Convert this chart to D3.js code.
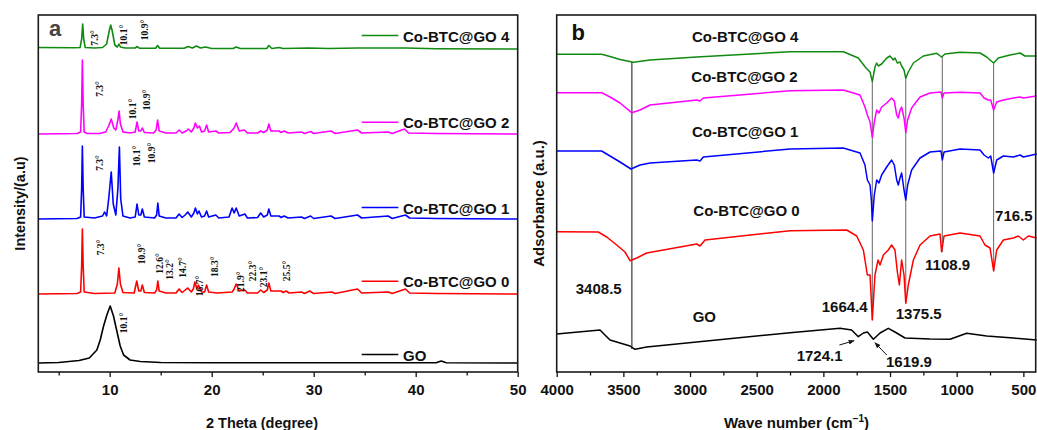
<!DOCTYPE html>
<html><head><meta charset="utf-8">
<script src="https://cdn.jsdelivr.net/npm/d3@7"></script>
<style>body{margin:0;background:#fff}svg{display:block}</style>
</head><body><svg id="c" width="1037" height="430"></svg>
<script>
// ================= Panel a: XRD (2θ in degrees, intensity in a.u. above each trace's baseline)
const xrdNames   = ["GO", "Co-BTC@GO 0", "Co-BTC@GO 1", "Co-BTC@GO 2", "Co-BTC@GO 4"];
const xrdOffsets = [9, 78, 153, 238, 323];
const xrdGO = [[3,0],[5,0.5],[7,2.5],[8,5],[8.74,13],[9.07,23],[9.4,37],[9.72,48],[10.05,57],[10.37,47],[10.7,32],[11.03,17],[11.36,8],[12,3],[13,1.5],[15,0.5],[20,0.3],[30,0.3],[42,0.3],[42.5,2],[43,0.3],[50,0]];
const xrdCo0 = [[3,0],[6.8,0.5],[7.15,2],[7.25,28],[7.32,65],[7.4,28],[7.5,2],[8.5,0.5],[10.5,1],[10.75,10],[10.9,26],[11.05,10],[11.3,1.5],[12.4,1],[12.65,13],[12.85,3],[13.05,3],[13.2,9],[13.4,1.5],[14.4,1],[14.6,4],[14.72,13],[14.85,3],[15.5,1],[16.5,1],[16.8,5],[17.1,1.5],[17.4,4],[17.65,6],[18,2],[18.2,5],[18.35,12],[18.55,5],[18.7,9],[19,2],[19.3,2],[19.5,9],[19.7,2],[20.5,1],[22,2],[22.2,5],[22.4,10],[22.7,3],[23.25,4],[23.5,1],[24.5,1],[24.8,4],[25.1,1.5],[25.45,4],[25.6,11],[25.8,3],[26.8,3],[27,1.5],[27.3,3],[27.6,1],[28.8,2],[29.1,0.5],[29.6,3],[30,0.5],[31.8,2],[32.1,0.5],[34.3,5],[34.7,1],[37.3,2],[37.7,0.5],[39,5],[39.4,1],[42,0.5],[50,0]];
const xrdCo1 = [[3,0],[6.8,0.5],[7.15,2],[7.25,30],[7.32,73],[7.4,30],[7.5,2],[8.5,1],[9.3,3],[9.5,7],[9.7,3],[9.9,20],[10.15,47],[10.35,15],[10.6,4],[10.8,30],[10.95,72],[11.08,20],[11.3,3],[12,1],[12.5,2],[12.68,15],[12.85,4],[13.05,4],[13.2,10],[13.4,2],[14.4,1],[14.6,4],[14.72,16],[14.85,3],[15.5,1],[16.5,1],[16.8,5],[17.1,1.5],[17.4,4],[17.65,7],[18,2],[18.25,6],[18.4,11],[18.6,5],[18.75,8],[19,2],[19.3,3],[19.5,8],[19.7,2],[20.4,4],[20.7,1],[21.7,2],[22,11],[22.2,6],[22.4,11],[22.7,3],[23.25,5],[23.5,1],[24.5,1.5],[24.8,6],[25.1,2],[25.45,4],[25.6,10],[25.8,3],[26.6,3],[26.8,1.5],[27.1,3],[27.5,1],[28.8,2],[29.1,0.5],[29.7,3],[30,0.5],[31.7,3],[32.1,0.5],[34.3,4],[34.7,1],[37.3,3],[37.7,0.5],[39,4],[39.4,1],[42,0.5],[50,0]];
const xrdCo2 = [[3,0],[6.8,0.5],[7.15,2],[7.25,30],[7.32,74],[7.4,30],[7.5,2],[7.8,0.5],[9,0.5],[9.6,2],[9.9,8],[10.15,15],[10.4,6],[10.6,4],[10.8,14],[10.92,23],[11.05,10],[11.3,2],[12,1],[12.5,2],[12.68,12],[12.85,3],[13.05,3],[13.2,6],[13.4,1.5],[14.3,1],[14.55,4],[14.7,14],[14.85,3],[15.5,1],[16.5,1],[16.8,4],[17.1,1],[17.5,3],[17.7,5],[18,2],[18.25,6],[18.4,11],[18.6,6],[18.8,8],[19,2],[19.3,3],[19.5,9],[19.7,2],[20.4,3],[20.7,1],[21.8,1.5],[22.2,6],[22.4,11],[22.7,3],[23.2,4],[23.5,1],[24.5,1],[24.8,3],[25.1,1.5],[25.45,4],[25.6,10],[25.8,3],[26.6,3],[26.8,1.5],[27.1,3],[27.5,1],[28.8,2],[29.1,0.5],[29.7,2.5],[30,0.5],[31.7,3],[32.1,0.5],[34.3,4],[34.7,1],[37.3,2],[37.7,0.5],[38.9,5],[39.3,1],[42,0.5],[50,0]];
const xrdCo4 = [[3,1.5],[6.5,1.2],[7.1,1.5],[7.25,10],[7.35,25],[7.45,10],[7.6,1.5],[8.5,1],[9.3,1.5],[9.7,5],[9.95,18],[10.1,24],[10.25,18],[10.5,4],[10.75,2],[10.9,5],[11.05,2],[11.5,1],[12.5,1],[12.7,2.5],[12.9,0.8],[14.5,0.8],[14.7,3.5],[14.9,0.8],[17.3,0.8],[17.7,2.5],[18.1,1],[18.5,3],[18.9,1],[19.4,2],[20,0.5],[22.1,0.5],[22.4,2],[22.8,0.5],[25.4,0.5],[25.6,3.5],[25.9,0.5],[26.6,1.5],[27,0.5],[29.5,1],[31.5,0.5],[34.3,1],[39,1],[42,0.3],[50,0]];
const xrdData = [xrdGO, xrdCo0, xrdCo1, xrdCo2, xrdCo4];
const xrdTicks = [5,10,15,20,25,30,35,40,45,50];
const xrdTickLabels = [10,20,30,40,50];
// peak annotations: [2θ, a.u., text]
const xrdPeakLabels = [
  [8.58,334,"7.3°"],[11.36,337,"10.1°"],[13.49,342,"10.9°"],
  [9.07,283,"7.3°"],[12.28,263,"10.1°"],[13.66,272,"10.9°"],
  [9.07,209,"7.3°"],[12.68,216,"10.1°"],[14.15,219,"10.9°"],
  [9.17,124.5,"7.3°"],[13.17,118,"10.9°"],[14.97,108.5,"12.6°"],[15.95,102.5,"13.2°"],[17.2,104.5,"14.7°"],[18.9,86,"16.7°"],[20.37,105.3,"18.3°"],[22.9,90.3,"21.9°"],[24.08,101,"22.3°"],[25.12,95,"23.1°"],[27.36,101,"25.5°"],
  [11.43,49,"10.1°"]
];

// ================= Panel b: FTIR (wavenumber cm-1, adsorbance a.u.)
const ftirNames = ["GO", "Co-BTC@GO 0", "Co-BTC@GO 1", "Co-BTC@GO 2", "Co-BTC@GO 4"];
const ftirGO = [[4000,38],[3675,42],[3638,37],[3600,32],[3450,26],[3413,22.7],[3325,25],[2250,39.3],[1875,43.7],[1788,42],[1738,35.3],[1700,39],[1670,40],[1625,32.7],[1575,39],[1513,43.7],[1463,40],[1388,34],[1200,33],[1050,32.7],[925,38.7],[775,36],[575,34],[400,32]];
const ftirCo0 = [[4000,140.3],[3688,140],[3625,135],[3550,127],[3488,120],[3450,111.3],[3400,114],[3325,119],[3200,122],[2950,128],[2925,126],[2888,132],[2250,141.3],[1825,142],[1750,136],[1700,122],[1670,97],[1650,97],[1633,52],[1613,97],[1590,112],[1575,107],[1550,117],[1513,122],[1488,127],[1463,122],[1445,100],[1430,87],[1413,112],[1395,97],[1382,68.7],[1363,87],[1325,112],[1275,127],[1200,136],[1125,138],[1113,120.3],[1095,136],[975,139],[825,136],[788,127],[750,124],[723,101],[700,122],[650,132],[575,134],[538,136],[500,132],[463,136],[400,134]];
const ftirCo1 = [[4000,221],[3663,221],[3600,216],[3525,210],[3443,203],[3375,207],[3300,209],[2950,212],[2925,211],[2900,215],[2250,223],[1850,224],[1725,219],[1688,207],[1670,192],[1650,187],[1640,172],[1633,151],[1618,177],[1600,192],[1583,189],[1563,197],[1525,205],[1488,212],[1468,207],[1450,192],[1438,187],[1425,194],[1413,199],[1395,182],[1382,172],[1368,187],[1338,202],[1275,214],[1200,220],[1118,221],[1108,212],[1095,220],[975,223],[825,222],[795,217],[763,214],[745,216],[723,199],[700,212],[650,216],[575,215],[525,217],[500,215],[400,218]];
const ftirCo2 = [[4000,279.3],[3663,279.3],[3600,275],[3525,269],[3438,259.3],[3375,262],[3300,267],[2950,272],[2925,271],[2900,274],[2250,281.3],[1850,282],[1725,277],[1688,265],[1670,257],[1650,250],[1633,234.7],[1618,250],[1600,262],[1583,259],[1563,265],[1525,269],[1488,274],[1468,271],[1450,257],[1438,254],[1425,262],[1413,265],[1395,254],[1382,239.3],[1368,252],[1338,264],[1275,275],[1200,279],[1118,280],[1108,274],[1095,279],[975,279.7],[825,279],[795,274],[763,272],[745,272],[723,262],[700,270],[650,272],[575,274],[525,275],[500,274],[400,276]];
const ftirCo4 = [[4000,317.7],[3663,317.7],[3600,315.5],[3525,312.5],[3425,309.7],[3300,312],[2950,315],[2250,320.3],[1850,320.3],[1738,314],[1680,304],[1650,300],[1633,290.3],[1613,305],[1600,309],[1588,306],[1563,308],[1525,314],[1500,316],[1475,312],[1463,314],[1445,309],[1425,310],[1413,306],[1395,302],[1382,293.7],[1363,300],[1325,309],[1250,316],[1150,318.7],[1113,315],[1088,318],[975,319.7],[825,319],[775,315],[750,312],[723,309],[688,314],[600,317],[525,319],[488,316],[400,316]];
const ftirData = [ftirGO, ftirCo0, ftirCo1, ftirCo2, ftirCo4];
const ftirTicks = [4000,3750,3500,3250,3000,2750,2500,2250,2000,1750,1500,1250,1000,750,500];
const ftirTickLabels = [4000,3500,3000,2500,2000,1500,1000,500];
// marker lines: [wavenumber, top a.u., bottom a.u.]
const ftirMarkers = [[3436,310,23],[1633,290,52],[1382,294,69],[1108,315,120],[723,309,101]];
// band labels: [wavenumber at text start, a.u., text]
const ftirBandLabels = [[3857,83.7,"3408.5"],[2012,65.3,"1664.4"],[1457,58.7,"1375.5"],[1237,107.7,"1108.9"],[712,157,"716.5"],[2200,16.3,"1724.1"],[1530,10.3,"1619.9"]];
// arrows: [from wave, from a.u., to wave, to a.u.]
const ftirArrows = [[1880,27,1770,31.3],[1525,17,1613,29.3]];
// series label positions: [wavenumber, a.u.]
const ftirSeriesLabelPos = [[2980,56],[2975,162],[2985,240.3],[2990,296],[2985,336]];

// ================= drawing
const colors = ["#000000", "#ff0000", "#0000ff", "#ff00ff", "#118a11"];
const svg = d3.select("#c");
const SANS = "'Liberation Sans', Arial, sans-serif";
const SERIF = "'Liberation Serif', 'Times New Roman', serif";

// Panel a
const ax = d3.scaleLinear().domain([3, 50]).range([38.3, 517.7]);
const ay = d3.scaleLinear().domain([0, 357]).range([372, 15]);
const ga = svg.append("g");
const lineA = (off) => d3.line().x(d => ax(d[0])).y(d => ay(d[1] + off));
xrdData.forEach((s, i) => {
  ga.append("path").attr("d", lineA(xrdOffsets[i])(s)).attr("fill", "none")
    .attr("stroke", colors[i]).attr("stroke-width", 1.6).attr("stroke-linejoin", "round");
});
const axA = d3.axisBottom(ax).tickValues(xrdTicks).tickSize(5).tickPadding(7)
  .tickFormat(d => xrdTickLabels.includes(d) ? d : "");
const gax = ga.append("g").attr("transform", "translate(0,372)").call(axA);
gax.select(".domain").remove();
gax.selectAll(".tick line").attr("stroke", "#111").attr("stroke-width", 1.3)
  .attr("y2", d => xrdTickLabels.includes(d) ? 5 : 3.5);
gax.selectAll(".tick text").attr("font-family", SANS).attr("font-weight", "bold")
  .attr("font-size", 15).attr("fill", "#111");
ga.append("rect").attr("x", 38.3).attr("y", 15).attr("width", 517.7 - 38.3).attr("height", 357)
  .attr("fill", "none").attr("stroke", "#1a1a1a").attr("stroke-width", 1.6);
// peak labels
xrdPeakLabels.forEach(p => {
  ga.append("text").attr("transform", `translate(${ax(p[0])},${ay(p[1])}) rotate(-90)`)
    .attr("text-anchor", "middle").attr("dominant-baseline", "central")
    .attr("font-family", SERIF).attr("font-weight", "bold").attr("font-size", 9.5)
    .attr("fill", "#111").text(p[2]);
});
// legend labels (right side)
const legY = [355, 281.7, 208, 122.7, 36];
xrdNames.forEach((n, i) => {
  ga.append("line").attr("x1", 361.7).attr("x2", 398.3).attr("y1", legY[i] - 0.5).attr("y2", legY[i] - 0.5)
    .attr("stroke", colors[i]).attr("stroke-width", 1.6);
  ga.append("text").attr("x", 403).attr("y", legY[i]).attr("dominant-baseline", "central")
    .attr("font-family", SANS).attr("font-weight", "bold").attr("font-size", 15)
    .attr("fill", "#111").text(n);
});
ga.append("text").attr("x", 49).attr("y", 36).attr("font-family", SANS).attr("font-weight", "bold")
  .attr("font-size", 22).attr("fill", "#444").text("a");
ga.append("text").attr("x", 262).attr("y", 428).attr("text-anchor", "middle")
  .attr("font-family", SANS).attr("font-weight", "bold").attr("font-size", 14.5).attr("fill", "#111")
  .text("2 Theta (degree)");
ga.append("text").attr("transform", "translate(20,203.5) rotate(-90)").attr("text-anchor", "middle")
  .attr("dominant-baseline", "central").attr("font-family", SANS).attr("font-weight", "bold")
  .attr("font-size", 14.5).attr("fill", "#111").text("Intensity/(a.u)");

// Panel b
const bx = d3.scaleLinear().domain([4000, 400]).range([556.7, 1036.7]);
const by = d3.scaleLinear().domain([0, 357]).range([372, 15]);
const gb = svg.append("g");
const lineB = d3.line().x(d => bx(d[0])).y(d => by(d[1]));
ftirMarkers.forEach((m, i) => {
  gb.append("line").attr("x1", bx(m[0])).attr("x2", bx(m[0])).attr("y1", by(m[1])).attr("y2", by(m[2]))
    .attr("stroke", i === 0 ? "#111" : "#666").attr("stroke-width", 1);
});
ftirData.forEach((s, i) => {
  gb.append("path").attr("d", lineB(s)).attr("fill", "none")
    .attr("stroke", colors[i]).attr("stroke-width", 1.5).attr("stroke-linejoin", "round");
});
const axB = d3.axisBottom(bx).tickValues(ftirTicks).tickSize(5).tickPadding(7)
  .tickFormat(d => ftirTickLabels.includes(d) ? d : "");
const gbx = gb.append("g").attr("transform", "translate(0,372)").call(axB);
gbx.select(".domain").remove();
gbx.selectAll(".tick line").attr("stroke", "#111").attr("stroke-width", 1.3)
  .attr("y2", d => ftirTickLabels.includes(d) ? 5 : 3.5);
gbx.selectAll(".tick text").attr("font-family", SANS).attr("font-weight", "bold")
  .attr("font-size", 15).attr("fill", "#111");
gb.append("rect").attr("x", 556.7).attr("y", 15).attr("width", 1035.7 - 556.7).attr("height", 357)
  .attr("fill", "none").attr("stroke", "#1a1a1a").attr("stroke-width", 1.6);
ftirNames.forEach((n, i) => {
  gb.append("text").attr("x", bx(ftirSeriesLabelPos[i][0])).attr("y", by(ftirSeriesLabelPos[i][1]))
    .attr("dominant-baseline", "central").attr("font-family", SANS).attr("font-weight", "bold")
    .attr("font-size", 15).attr("fill", "#111").text(n);
});
ftirBandLabels.forEach(b => {
  gb.append("text").attr("x", bx(b[0])).attr("y", by(b[1])).attr("dominant-baseline", "central")
    .attr("font-family", SANS).attr("font-weight", "bold").attr("font-size", 15)
    .attr("fill", "#111").text(b[2]);
});
svg.append("defs").append("marker").attr("id", "arr").attr("viewBox", "0 0 10 10")
  .attr("refX", 9).attr("refY", 5).attr("markerWidth", 6).attr("markerHeight", 6)
  .attr("orient", "auto").append("path").attr("d", "M0,1L10,5L0,9z").attr("fill", "#111");
ftirArrows.forEach(a => {
  gb.append("line").attr("x1", bx(a[0])).attr("y1", by(a[1])).attr("x2", bx(a[2])).attr("y2", by(a[3]))
    .attr("stroke", "#111").attr("stroke-width", 1).attr("marker-end", "url(#arr)");
});
gb.append("text").attr("x", 571.5).attr("y", 40).attr("font-family", SANS).attr("font-weight", "bold")
  .attr("font-size", 22).attr("fill", "#111").text("b");
const xl = gb.append("text").attr("x", 796.5).attr("y", 428).attr("text-anchor", "middle")
  .attr("font-family", SANS).attr("font-weight", "bold").attr("font-size", 15).attr("fill", "#111");
xl.append("tspan").text("Wave number (cm");
xl.append("tspan").attr("dy", -6).attr("font-size", 10).text("−1");
xl.append("tspan").attr("dy", 6).text(")");
gb.append("text").attr("transform", "translate(538,203.5) rotate(-90)").attr("text-anchor", "middle")
  .attr("dominant-baseline", "central").attr("font-family", SANS).attr("font-weight", "bold")
  .attr("font-size", 15).attr("fill", "#111").text("Adsorbance (a.u.)");
</script></body></html>
